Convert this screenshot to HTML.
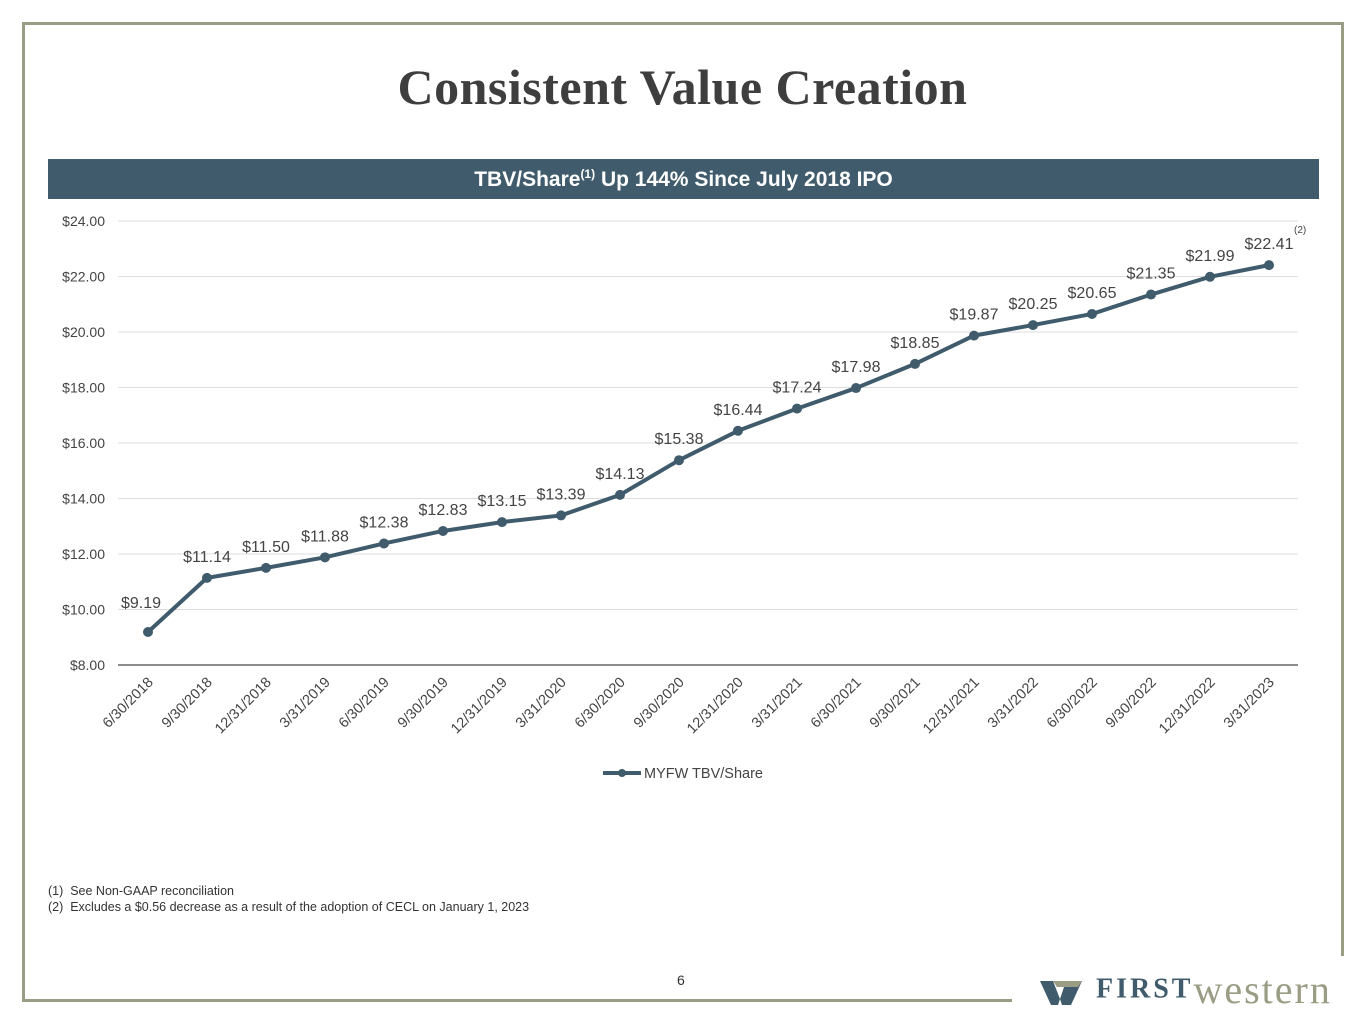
<!DOCTYPE html>
<html><head><meta charset="utf-8"><style>
body{margin:0;width:1365px;height:1024px;background:#fff;font-family:"Liberation Sans",sans-serif;position:relative;overflow:hidden}
.b{position:absolute;background:#9a9c84}
</style></head><body>
<div class="b" style="left:22px;top:22px;width:1322px;height:3px"></div>
<div class="b" style="left:22px;top:22px;width:3px;height:980px"></div>
<div class="b" style="left:1341px;top:22px;width:3px;height:934px"></div>
<div class="b" style="left:22px;top:999px;width:990px;height:3px"></div>
<div style="position:absolute;left:0;width:1365px;top:58px;text-align:center;font-family:'Liberation Serif',serif;font-weight:bold;font-size:50px;letter-spacing:0.5px;color:#3e3e3e">Consistent Value Creation</div>
<div style="position:absolute;left:48px;top:159px;width:1271px;height:40px;background:#3f5b6c;color:#fff;font-weight:bold;font-size:21px;text-align:center;line-height:42px">TBV/Share<sup style="font-size:12px;line-height:0">(1)</sup> Up 144% Since July 2018 IPO</div>
<svg id="c" width="1365" height="1024" style="position:absolute;left:0;top:0"></svg>
<div style="position:absolute;left:48px;top:883px;font-size:12.5px;color:#333;line-height:16px">(1)&nbsp; See Non-GAAP reconciliation<br>(2)&nbsp; Excludes a $0.56 decrease as a result of the adoption of CECL on January 1, 2023</div>
<div style="position:absolute;left:677px;top:972px;font-size:14px;color:#333">6</div>
<div style="position:absolute;left:1038px;top:966px;font-family:'Liberation Serif',serif;white-space:nowrap">
<svg width="48" height="34" style="vertical-align:middle"><polygon points="2,8 15,8 22,26 28,8 44,8 33,32 24,32 22,26 20,32 13,32" fill="#3f5b6c"/><polygon points="15,8 44,8 40,14 19,14" fill="#9a9c84"/></svg><span style="font-size:28px;font-weight:bold;color:#3f5b6c;letter-spacing:3px;vertical-align:middle"> FIRST</span><span style="font-size:40px;color:#9a9c84;letter-spacing:2px;vertical-align:middle">western</span></div>
<script>
const categories=["6/30/2018","9/30/2018","12/31/2018","3/31/2019","6/30/2019","9/30/2019","12/31/2019","3/31/2020","6/30/2020","9/30/2020","12/31/2020","3/31/2021","6/30/2021","9/30/2021","12/31/2021","3/31/2022","6/30/2022","9/30/2022","12/31/2022","3/31/2023"];
const values=[9.19,11.14,11.50,11.88,12.38,12.83,13.15,13.39,14.13,15.38,16.44,17.24,17.98,18.85,19.87,20.25,20.65,21.35,21.99,22.41];
const yTicks=[8,10,12,14,16,18,20,22,24];
const svg=document.getElementById('c');const NS='http://www.w3.org/2000/svg';
const x=i=>148+i*(1269-148)/(categories.length-1);
const y=v=>665-(v-8)*(665-221)/16;
function mk(t,a,txt){const e=document.createElementNS(NS,t);for(const k in a)e.setAttribute(k,a[k]);if(txt!=null)e.textContent=txt;svg.appendChild(e);return e;}
yTicks.forEach(v=>{
const g=mk('line',{x1:118,x2:1298,y1:y(v),y2:y(v),stroke:v==8?'#666':'#ddd','stroke-width':v==8?1.5:1});


const t=mk('text',{x:105,y:y(v)+5,'text-anchor':'end','font-size':14,fill:'#444'},'$'+v.toFixed(2));


});
const p=mk('polyline',{points:values.map((v,i)=>x(i)+','+y(v)).join(' '),fill:'none',stroke:'#3f5b6c','stroke-width':4,'stroke-linejoin':'round'});


values.forEach((v,i)=>{
const c=mk('circle',{cx:x(i),cy:y(v),r:5,fill:'#3f5b6c'});


const t=mk('text',{x:x(i)-(i==0?7:0),y:y(v)-(i==0?24:16),'text-anchor':'middle','font-size':16,fill:'#444'},'$'+v.toFixed(2));


const l=mk('text',{x:x(i)+6,y:683,'text-anchor':'end','font-size':14.5,fill:'#444',transform:`rotate(-45 ${x(i)+6} 683)`},categories[i]);


});
const n=mk('text',{x:1294,y:233,'font-size':10,fill:'#444'},'(2)');


const ll=mk('line',{x1:603,x2:641,y1:773,y2:773,stroke:'#3f5b6c','stroke-width':4});


const lc=mk('circle',{cx:622,cy:773,r:4,fill:'#3f5b6c'});


const lt=mk('text',{x:644,y:778,'font-size':14.5,fill:'#444'},'MYFW TBV/Share');


</script>
</body></html>
